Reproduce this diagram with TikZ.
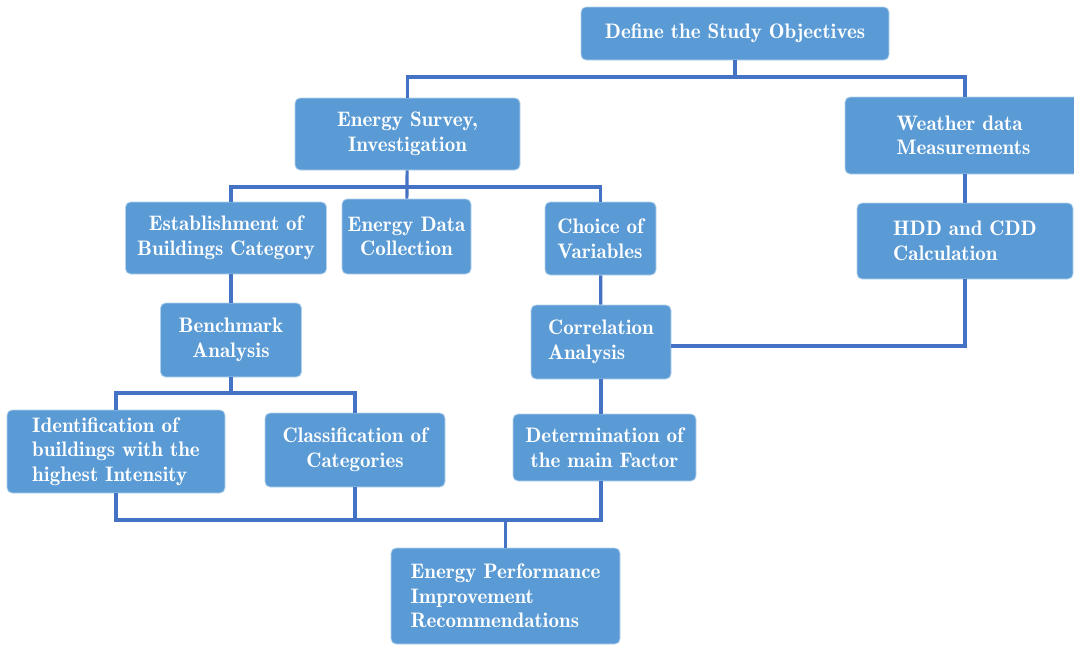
\documentclass[tikz,border=0pt]{standalone}
\usepackage{fontspec}
\usepackage{tikz}
\usetikzlibrary{calc}

\newfontfamily\boxfont{Latin Modern Roman Demi}
\definecolor{boxblue}{HTML}{5B9BD5}
\definecolor{lineblue}{HTML}{4472C4}

\begin{document}
\begin{tikzpicture}[x=1pt, y=-1pt,
    stepbox/.style={rectangle, rounded corners=5pt, fill=boxblue, draw=white!55!boxblue,
        line width=0.8pt, text=white, inner sep=0pt, align=center,
        font=\boxfont\fontsize{21}{24.5}\selectfont},
    link/.style={draw=lineblue, line width=3.2pt}]

    \useasboundingbox (0,0) rectangle (1074,645);

    % Nodes

    \node[stepbox, minimum width=308, minimum height=53]  (obj)     at (735,33.5)  {Define the Study Objectives}; %
    \node[stepbox, minimum width=225, minimum height=72]  (survey)  at (407.5,134) {Energy Survey,\\Investigation}; %
    \node[stepbox, minimum width=237, minimum height=77, align=left] (weather) at (963.5,135.5) {Weather data\\Measurements}; %
    \node[stepbox, minimum width=216, minimum height=76, align=left] (hdd)     at (965,241)    {HDD and CDD\\Calculation}; %

    \node[stepbox, minimum width=201, minimum height=72]  (estab)   at (226,238)   {Establishment of\\Buildings Category}; %
    \node[stepbox, minimum width=129, minimum height=75]  (edata)   at (406.5,236.5) {Energy Data\\Collection}; %
    \node[stepbox, minimum width=111, minimum height=73, align=left] (choice)  at (600.5,238.5) {Choice of\\Variables}; %

    \node[stepbox, minimum width=141, minimum height=74]  (bench)   at (231,340)   {Benchmark\\Analysis}; %
    \node[stepbox, minimum width=140, minimum height=74, align=left] (corr)    at (601,342)   {Correlation\\Analysis}; %

    \node[stepbox, minimum width=218, minimum height=83, align=left] (ident)   at (116,451.5) {Identification of\\buildings with the\\highest Intensity}; %
    \node[stepbox, minimum width=180, minimum height=74]  (class)   at (355,450)   {Classification of\\Categories}; %
    \node[stepbox, minimum width=183, minimum height=67]  (determ)  at (604.5,447.5) {Determination of\\the main Factor}; %

    \node[stepbox, minimum width=229, minimum height=96, align=left] (rec)     at (505.5,596) {Energy Performance\\Improvement\\Recommendations}; %

    % Junctions

    \coordinate (j1) at (735,77);
    \coordinate (j2) at (407.5,187);
    \coordinate (j3) at (231,393);
    \coordinate (j4) at (505.5,520);

    % Links

    \path[link] (obj) -- (j1);
    \path[link] (survey.north) |- (j1) -| (hdd.north |- weather.north);
    \path[link] (survey) -- (edata);
    \path[link] (bench.north |- estab.north) |- (j2) -| (choice.north);
    \path[link] (bench.north |- estab.south) -- (bench.north);
    \path[link] (choice) -- (corr);
    \path[link] (hdd.north |- weather.south) -- (hdd.north);
    \path[link] (hdd.south) |- ($(corr.east)+(0,4)$);
    \path[link] (bench) -- (j3);
    \path[link] (ident.north) |- (j3) -| (class.north);
    \path[link] (corr.south) -- (corr.south |- determ.north);
    \path[link] (ident.south) |- (j4) -| (corr.south |- determ.south);
    \path[link] (class.south) -- (class.south |- j4);
    \path[link] (j4) -- (rec.north);

\end{tikzpicture}
\end{document}
